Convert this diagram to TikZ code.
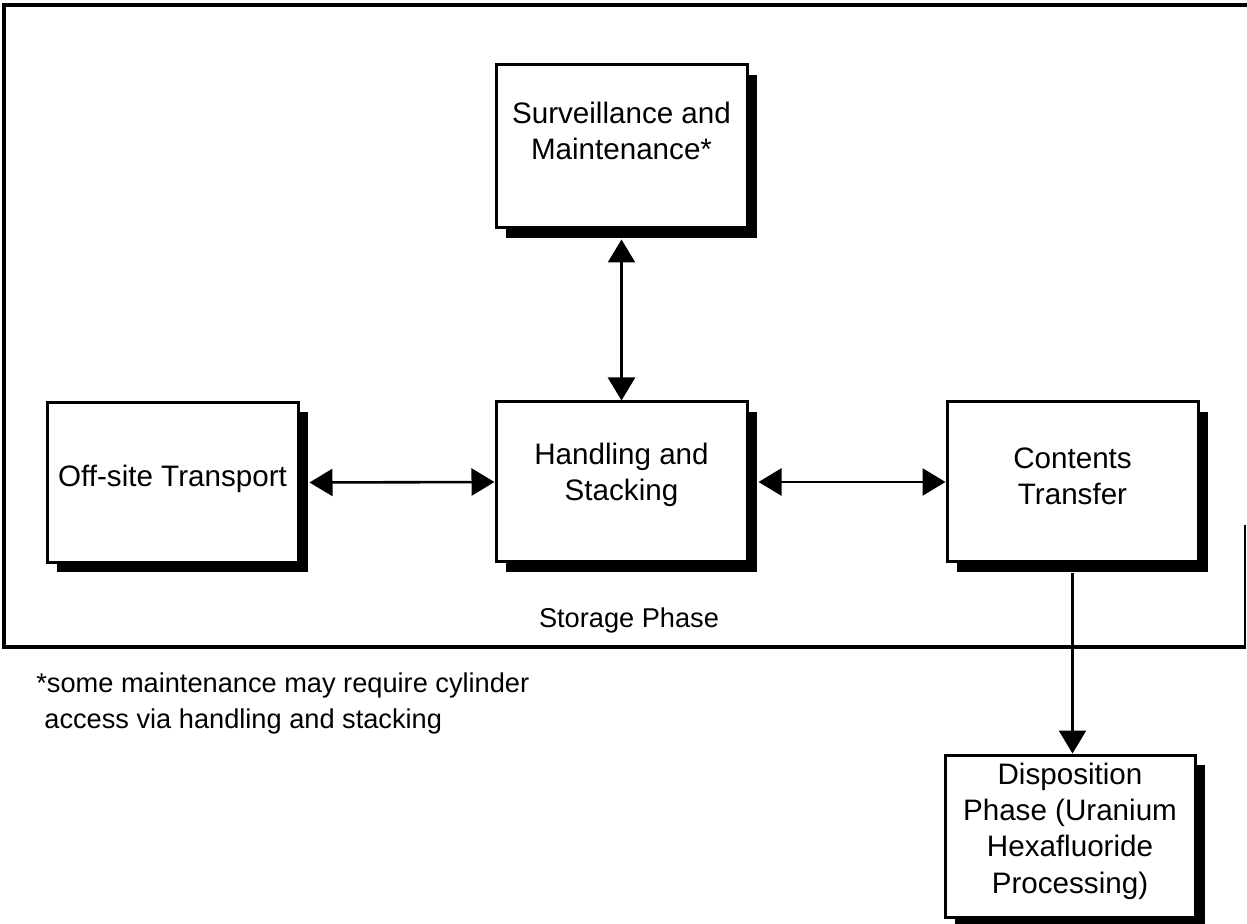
\documentclass[tikz,border=0pt]{standalone}
\usepackage{fontspec}
\setmainfont{Liberation Sans}
\usetikzlibrary{arrows.meta,shadows}
\begin{document}
\begin{tikzpicture}[x=0.5pt,y=-0.5pt,
  box/.style={draw=black,line width=1.5pt,fill=white,minimum width=125.5pt,minimum height=80pt,
    align=center,inner sep=2pt,font=\fontsize{14.8pt}{18.2pt}\selectfont,
    drop shadow={shadow xshift=5pt,shadow yshift=-5pt,fill=black,opacity=1}},
  conn/.style={line width=1.3pt,{Triangle[length=11.5pt,width=13.5pt]}-{Triangle[length=11.5pt,width=13.5pt]}},
  oneway/.style={line width=1.3pt,-{Triangle[length=11.5pt,width=13.5pt]}},
  frame/.style={line width=2pt},
  note/.style={font=\fontsize{13.6pt}{18pt}\selectfont,inner sep=0pt}]
\useasboundingbox (0,0) rectangle (1247,924);
% storage phase frame
\draw[frame] (1247,5) -- (4,5) -- (4,647) -- (1246,647);
\draw[line width=0.6pt] (1245,525) -- (1245,647);
% boxes
\node[box,minimum height=81.5pt,text depth=16pt] (surv) at (621.5,146.5) {Surveillance and\\Maintenance*};
\node[box,text depth=7pt] (off) at (172.5,482.5) {Off-site Transport};
\node[box,text depth=10pt] (hand) at (621.5,482) {Handling and\\Stacking};
\node[box,text depth=6pt] (cont) at (1072.5,482) {Contents\\Transfer};
\node[box,minimum width=125pt,minimum height=81pt,text depth=8pt] (disp) at (1070,836) {Disposition\\Phase (Uranium\\Hexafluoride\\Processing)};
% connectors
\draw[conn] ([xshift=5pt]off.east) -- (hand.west);
\draw[conn] ([xshift=5pt]hand.east) -- (cont.west);
\draw[conn] ([yshift=-5pt]surv.south) -- (hand.north);
\draw[oneway] ([yshift=-5pt]cont.south) -- (cont.south |- disp.north);
% labels
\node[note,anchor=base] (phase) at (629,627) {Storage Phase};
\node[note,anchor=base west] (fn1) at (36,692) {*some maintenance may require cylinder};
\node[note,anchor=base west] (fn2) at (44,728) {access via handling and stacking};
\end{tikzpicture}
\end{document}
